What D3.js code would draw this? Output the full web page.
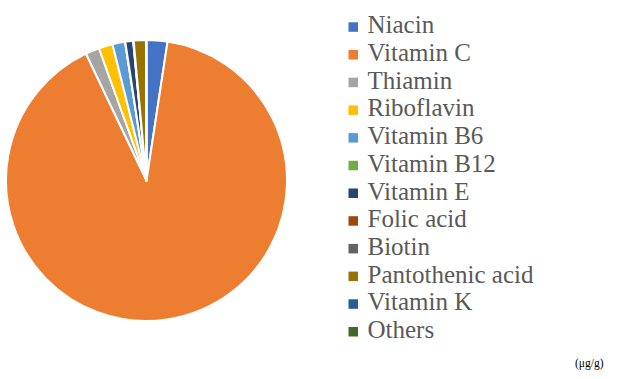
<!DOCTYPE html>
<html>
<head>
<meta charset="utf-8">
<script src="https://cdn.jsdelivr.net/npm/d3@7"></script>
<style>
  html, body { margin: 0; padding: 0; background: #fff; }
  svg { display: block; }
  svg text { font-family: "Liberation Serif", "Times New Roman", serif !important; }
</style>
</head>
<body>
<div id="chart"></div>
<script>
// vitamin content (share, %)
var categories = ["Niacin", "Vitamin C", "Thiamin", "Riboflavin", "Vitamin B6", "Vitamin B12",
                  "Vitamin E", "Folic acid", "Biotin", "Pantothenic acid", "Vitamin K", "Others"];
var values = [2.4, 90.7, 1.6, 1.6, 1.45, 0.03, 0.9, 0.03, 0.03, 1.4, 0.03, 0.03];
var colors = ["#4472C4", "#ED7D31", "#A5A5A5", "#FFC000", "#5B9BD5", "#70AD47",
              "#264478", "#9E480E", "#636363", "#997300", "#255E91", "#43682B"];
var unitLabel = "(\u03bcg/g)";

var width = 620, height = 379;
var serif = "Liberation Serif, Times New Roman, serif";

var svg = d3.select("#chart").append("svg")
    .attr("width", width)
    .attr("height", height);

var data = categories.map(function (c, i) { return { name: c, value: values[i] }; });

var color = d3.scaleOrdinal().domain(categories).range(colors);

var pie = d3.pie().sort(null).value(function (d) { return d.value; });
var arc = d3.arc().innerRadius(0).outerRadius(140.5);

var g = svg.append("g").attr("transform", "translate(146.5,180.5)");

g.selectAll("path")
    .data(pie(data))
    .enter().append("path")
    .attr("d", arc)
    .attr("fill", function (d) { return color(d.data.name); })
    .attr("stroke", "#fff")
    .attr("stroke-width", 2)
    .attr("stroke-linejoin", "round");

// legend
var rowY = d3.scalePoint().domain(categories).range([33.3, 338]);

var legend = svg.append("g").selectAll("g")
    .data(categories)
    .enter().append("g")
    .attr("transform", function (d) { return "translate(348.5," + rowY(d) + ")"; });

legend.append("rect")
    .attr("x", 0).attr("y", -11)
    .attr("width", 9.5).attr("height", 9.5)
    .attr("fill", function (d) { return color(d); });

legend.append("text")
    .attr("x", 19)
    .attr("y", 0)
    .style("font-family", serif, "important")
    .attr("font-size", 25)
    .attr("fill", "#595959")
    .text(function (d) { return d; });

svg.append("text")
    .attr("x", 575)
    .attr("y", 367)
    .style("font-family", serif, "important")
    .attr("font-size", 11.5)
    .attr("fill", "#000")
    .text(unitLabel);
</script>
</body>
</html>
